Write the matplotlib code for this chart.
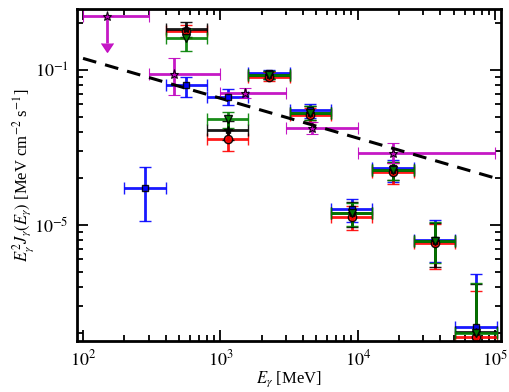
import matplotlib
matplotlib.use("Agg")
import matplotlib.pyplot as plt
import numpy as np

plt.rcParams['font.family'] = 'serif'
plt.rcParams['font.serif'] = ['Liberation Serif', 'DejaVu Serif']
plt.rcParams['mathtext.fontset'] = 'stix'

# factor-2 energy bins (MeV) used by the four coloured series
bin_lo = np.array([200, 400, 800, 1600, 3200, 6400, 12800, 25600, 51200])
bin_hi = np.array([400, 800, 1600, 3200, 6400, 12800, 25600, 51200, 102400])

# blue squares (all nine bins)
blue_y = [1.725e-5, 8.0e-5, 6.73e-5, 9.57e-5, 5.52e-5, 1.263e-5, 2.32e-5, 8.0e-6, 2.21e-6]
blue_hi = [2.38e-5, 9.06e-5, 7.54e-5, 1.0e-4, 6.03e-5, 1.465e-5, 2.63e-5, 1.077e-5, 4.81e-6]
blue_lo = [1.066e-5, 6.73e-5, 5.94e-5, 8.88e-5, 4.9e-5, 1.05e-5, 1.90e-5, 5.77e-6, 1e-8]

# red circles, green triangles, black stars (bins 2..9)
red_y = [1.785e-4, 3.59e-5, 9.0e-5, 5.13e-5, 1.13e-5, 2.20e-5, 7.69e-6, 1.90e-6]
red_hi = [1.95e-4, 4.10e-5, 9.7e-5, 5.69e-5, 1.33e-5, 2.51e-5, 1.015e-5, 3.77e-6]
red_lo = [1.61e-4, 3.02e-5, 8.49e-5, 4.62e-5, 9.28e-6, 1.84e-5, 5.18e-6, 1e-8]

green_y = [1.61e-4, 4.83e-5, 9.28e-5, 5.28e-5, 1.19e-5, 2.26e-5, 7.88e-6, 2.0e-6]
green_hi = [1.84e-4, 5.38e-5, 9.85e-5, 5.85e-5, 1.38e-5, 2.55e-5, 1.046e-5, 4.22e-6]
green_lo = [1.326e-4, 4.23e-5, 8.75e-5, 4.75e-5, 9.9e-6, 1.95e-5, 5.71e-6, 1e-8]

black_y = [1.84e-4, 4.10e-5, 9.28e-5, 5.28e-5, 1.19e-5, 2.26e-5, 7.88e-6, 2.03e-6]
black_hi = [2.04e-4, 4.69e-5, 9.85e-5, 5.85e-5, 1.41e-5, 2.55e-5, 1.03e-5, 4.14e-6]
black_lo = [1.63e-4, 3.54e-5, 8.75e-5, 4.75e-5, 9.7e-6, 1.95e-5, 5.34e-6, 1e-8]

# magenta stars, wide bins; first point is an upper limit
mag_x = [150, 460, 1500, 4630, 18000]
mag_xlo = [100, 300, 1000, 3000, 10000]
mag_xhi = [300, 1000, 3000, 10000, 100000]
mag_y = [2.24e-4, 9.42e-5, 7.07e-5, 4.2e-5, 2.90e-5]
mag_hi = [2.24e-4, 1.19e-4, 7.62e-5, 4.64e-5, 3.37e-5]
mag_lo = [1.486e-4, 6.9e-5, 6.57e-5, 3.87e-5, 2.51e-5]
mag_ul = [True, False, False, False, False]

# power-law fit
line_E = [1e2, 1e5]
line_val = [1.189e-4, 2.01e-5]

fig = plt.figure(figsize=(5.1, 3.92), dpi=100)
ax = fig.add_axes([0.151, 0.130, 0.831, 0.847])
ax.set_xscale('log')
ax.set_yscale('log')


def draw(xlo, xhi, y, ylo, yhi, color, marker, ms):
    xlo = np.asarray(xlo, float)
    xhi = np.asarray(xhi, float)
    y = np.asarray(y, float)
    xc = np.sqrt(xlo * xhi)
    xerr = [xc - xlo, xhi - xc]
    yerr = [y - np.asarray(ylo), np.asarray(yhi) - y]
    ax.errorbar(xc, y, xerr=xerr, yerr=yerr, fmt=marker, color=color,
                mfc=color, mec='k', ms=ms, mew=1.0, elinewidth=2.0,
                capsize=4.5, capthick=1.5, alpha=0.9)


draw(bin_lo, bin_hi, blue_y, blue_lo, blue_hi, 'blue', 's', 5)
draw(bin_lo[1:], bin_hi[1:], red_y, red_lo, red_hi, 'red', 'o', 6)
draw(bin_lo[1:], bin_hi[1:], black_y, black_lo, black_hi, 'k', '*', 6)
draw(bin_lo[1:], bin_hi[1:], green_y, green_lo, green_hi, 'green', 'v', 6)

mx = np.array(mag_x, float)
my = np.array(mag_y, float)
ax.errorbar(mx, my, xerr=[mx - np.array(mag_xlo), np.array(mag_xhi) - mx],
            yerr=[my - np.array(mag_lo), np.array(mag_hi) - my],
            uplims=mag_ul, fmt='*', color='m', mfc='m', mec='k', ms=6.5,
            mew=0.8, elinewidth=2.0, capsize=4.5, capthick=1.5, alpha=0.9)

ax.plot(line_E, line_val, color='k', lw=2.2, dashes=(4.5, 3))

ax.set_xlim(90.4, 1.1e5)
ax.set_ylim(1.786e-6, 2.475e-4)
ax.set_xticks([1e2, 1e3, 1e4, 1e5])
ax.set_xticklabels(['$10^{2}$', '$10^{3}$', '$10^{4}$', '$10^{5}$'])
ax.set_yticks([1e-5, 1e-4])
ax.set_yticklabels(['$10^{-5}$', '$10^{-1}$'])

ax.tick_params(which='both', direction='in', top=True, right=True,
               labelsize=13, width=1.3)
ax.tick_params(which='major', length=8, pad=6)
ax.tick_params(which='minor', length=4)
for s in ax.spines.values():
    s.set_linewidth(2)

ax.set_xlabel(r'$E_\gamma$ [MeV]', fontsize=12, labelpad=0)
ax.set_ylabel(r'$E_\gamma^2 J_\gamma(E_\gamma)$ [MeV cm$^{-2}$ s$^{-1}$]',
              fontsize=12, labelpad=-1)

fig.savefig('out.png', dpi=100)
